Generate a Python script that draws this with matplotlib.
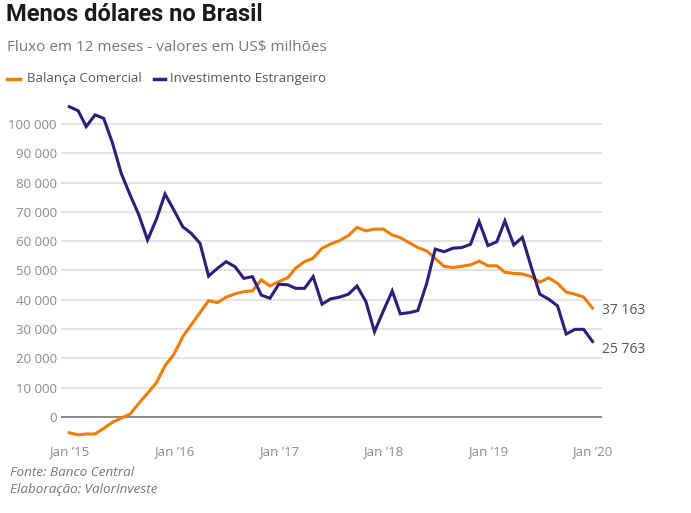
import numpy as np
import pandas as pd
import matplotlib
matplotlib.use("Agg")
import matplotlib.pyplot as plt
from matplotlib.lines import Line2D

plt.rcParams['font.family'] = ['Open Sans', 'DejaVu Sans']

# monthly, Jan 2015 .. Jan 2020 (US$ millions, 12-month flow)
months = pd.date_range("2015-01-01", "2020-01-01", freq="MS")

balanca = [-5400, -6100, -5800, -5800, -3900, -1800, -400, 1000, 4700, 8100,
           11700, 17500, 21400, 27400, 31400, 35600, 39700, 39000, 40900, 42000,
           42800, 43000, 46800, 44700, 46200, 47500, 50800, 53000, 54200, 57600,
           59000, 60200, 61900, 64700, 63500, 64100, 64100, 62100, 61200, 59500,
           57800, 56700, 54100, 51400, 51000, 51400, 51900, 53200, 51600, 51600,
           49400, 49000, 48800, 47900, 46000, 47500, 45600, 42600, 41900, 40900,
           37163]

investimento = [105900, 104500, 99100, 103100, 101900, 93400, 83200, 75800, 68900, 60400,
                67500, 76100, 70600, 64900, 62700, 59300, 48100, 50700, 53000, 51300,
                47300, 47900, 41600, 40500, 45300, 45100, 43900, 43900, 47900, 38500,
                40300, 40900, 41900, 44700, 39400, 29100, 36200, 43000, 35200, 35600,
                36300, 45500, 57300, 56400, 57600, 57800, 58900, 66700, 58500, 59800,
                66900, 58700, 61300, 51200, 41900, 40200, 37900, 28300, 29900, 29900,
                25763]

yticks = [0, 10000, 20000, 30000, 40000, 50000, 60000, 70000, 80000, 90000, 100000]
xtick_dates = pd.to_datetime(["2015-01-01", "2016-01-01", "2017-01-01",
                              "2018-01-01", "2019-01-01", "2020-01-01"])
xtick_labels = ["Jan \u201915", "Jan \u201916", "Jan \u201917",
                "Jan \u201918", "Jan \u201919", "Jan \u201920"]

orange = "#F07D00"
purple = "#301C7E"

fig = plt.figure(figsize=(6.91, 5.13), dpi=100)
ax = fig.add_axes([61 / 691, 0.1415, 541 / 691, 0.674])

for v in yticks[1:]:
    ax.axhline(v, color="#e3e3e3", lw=1.4, zorder=1)
ax.axhline(0, color="#8a8a8a", lw=1.4, zorder=1)

ax.plot(months, balanca, color=orange, lw=2.2, zorder=3, solid_joinstyle="miter")
ax.plot(months, investimento, color=purple, lw=2.2, zorder=3, solid_joinstyle="miter")

ax.set_xlim(pd.Timestamp("2014-12-03"), pd.Timestamp("2020-02-03"))
ax.set_ylim(-8000, 110000)
ax.set_yticks(yticks)
ax.set_yticklabels([f"{v:,}".replace(",", " ") for v in yticks])
ax.set_xticks(xtick_dates)
ax.set_xticklabels(xtick_labels)
ax.tick_params(axis="both", length=0, labelsize=9.5, labelcolor="#8a8a8a")
ax.tick_params(axis="y", pad=3)
ax.tick_params(axis="x", pad=3)
for s in ax.spines.values():
    s.set_visible(False)

# end-of-line labels
ax.annotate(f"{balanca[-1]:,}".replace(",", " "), (months[-1], balanca[-1]),
            xytext=(7, -2), textcoords="offset points", va="center", ha="left",
            fontsize=10, color="#555555")
ax.annotate(f"{investimento[-1]:,}".replace(",", " "), (months[-1], investimento[-1]),
            xytext=(7, -6), textcoords="offset points", va="center", ha="left",
            fontsize=10, color="#555555")

# title block
fig.text(6 / 691, 1 - 15 / 513, "Menos dólares no Brasil", fontsize=17,
         fontweight="bold", color="#1a1a1a", va="center", ha="left",
         family=["Roboto", "DejaVu Sans"])
fig.text(7 / 691, 1 - 48 / 513, "Fluxo em 12 meses - valores em US$ milhões",
         fontsize=11, color="#777777", va="center", ha="left")

# legend
ly = 1 - 79 / 513
fig.add_artist(Line2D([7 / 691, 20 / 691], [ly, ly], color=orange, lw=2.5))
fig.text(27 / 691, ly, "Balança Comercial", fontsize=9.5, color="#555555",
         va="center", ha="left")
fig.add_artist(Line2D([154 / 691, 165 / 691], [ly, ly], color=purple, lw=2.5))
fig.text(170 / 691, ly, "Investimento Estrangeiro", fontsize=9.5, color="#555555",
         va="center", ha="left")

# footer
fig.text(10 / 691, 1 - 472 / 513, "Fonte: Banco Central", fontsize=9.7,
         style="italic", color="#777777", va="center", ha="left")
fig.text(10 / 691, 1 - 490 / 513, "Elaboração: ValorInveste", fontsize=9.7,
         style="italic", color="#777777", va="center", ha="left")

fig.savefig("out.png", dpi=100)
